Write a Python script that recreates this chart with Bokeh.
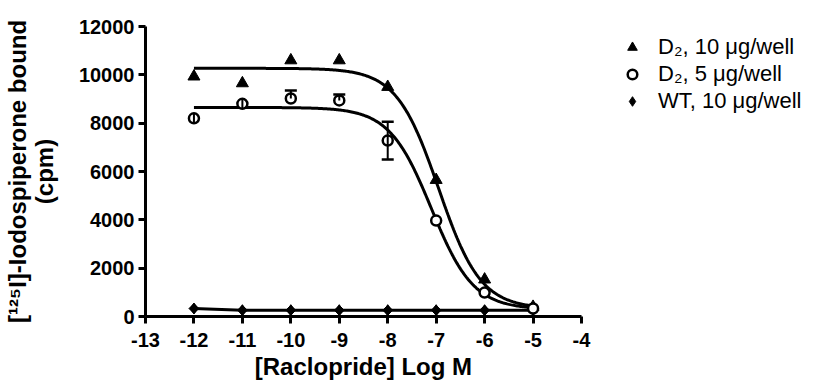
import numpy as np
from bokeh.plotting import figure
from bokeh.models import Range1d, FixedTicker, Legend, LegendItem, Title
from bokeh.embed import file_html
from bokeh.resources import INLINE

# ---------------- data ----------------
log_conc = [-12, -11, -10, -9, -8, -7, -6, -5]
d2_10 = [9930, 9650, 10600, 10600, 9500, 5650, 1530, 400]
d2_5 = [8200, 8800, 9020, 8940, 7280, 3970, 990, 330]
d2_5_err_lo = [200, 200, 0, 0, 780, 0, 0, 0]
d2_5_err_hi = [200, 200, 330, 250, 780, 0, 0, 0]
wt_10 = [330, 260, 260, 260, 260, 260, 260, 260]

# one-site competition fits: (top, bottom, logIC50)
fit_d2_10 = (10270, 330, -6.95)
fit_d2_5 = (8650, 300, -7.10)

x_ticks = [-13, -12, -11, -10, -9, -8, -7, -6, -5, -4]
x_tick_labels = ["-13", "-12", "-11", "-10", "-9", "-8", "-7", "-6", "-5", "-4"]
y_ticks = [0, 2000, 4000, 6000, 8000, 10000, 12000]
y_tick_labels = ["0", "2000", "4000", "6000", "8000", "10000", "12000"]

legend_labels = ["D\u2082, 10 \u03bcg/well", "D\u2082, 5 \u03bcg/well", "WT, 10 \u03bcg/well"]
x_title = "[Raclopride] Log M"
y_title = "[\u00b9\u00b2\u2075I]-Iodospiperone bound\n(cpm)"

FONT = "Liberation Sans"

# ---------------- layout ----------------
W, H = 817, 385
ML, MT, MB, MR = 145, 26, 69, 11
AXIS_PX = 436                      # pixel length of the drawn x axis (-13 .. -4)
frame_w = W - ML - MR
x_lo, x_hi = x_ticks[0], x_ticks[-1]
x_max = x_lo + (x_hi - x_lo) * frame_w / AXIS_PX   # extra room on the right for the legend

p = figure(width=W, height=H, x_range=Range1d(x_lo, x_max), y_range=Range1d(y_ticks[0], y_ticks[-1]),
           output_backend="svg", toolbar_location=None,
           min_border_left=ML, min_border_top=MT, min_border_bottom=MB, min_border_right=MR)
p.outline_line_color = None
p.xgrid.visible = False
p.ygrid.visible = False
p.background_fill_color = "white"
p.border_fill_color = "white"

for ax in (p.xaxis[0], p.yaxis[0]):
    ax.axis_line_width = 3
    ax.axis_line_color = "black"
    ax.major_tick_line_width = 3
    ax.major_tick_line_color = "black"
    ax.major_tick_out = 7
    ax.major_tick_in = 0
    ax.minor_tick_line_color = None
    ax.major_label_text_font = FONT
    ax.major_label_text_font_style = "bold"
    ax.major_label_text_font_size = "20px"
    ax.major_label_text_color = "black"
    ax.axis_label_text_font = FONT
    ax.axis_label_text_font_style = "bold"
    ax.axis_label_text_color = "black"

p.xaxis[0].ticker = FixedTicker(ticks=x_ticks)
p.xaxis[0].major_label_overrides = dict(zip(x_ticks, x_tick_labels))
p.xaxis[0].bounds = (x_lo, x_hi)
p.xaxis[0].major_label_standoff = 9

p.yaxis[0].ticker = FixedTicker(ticks=y_ticks)
p.yaxis[0].major_label_overrides = dict(zip(y_ticks, y_tick_labels))
p.yaxis[0].bounds = (y_ticks[0], y_ticks[-1])
p.yaxis[0].major_label_standoff = 4
p.yaxis[0].axis_label = y_title
p.yaxis[0].axis_label_text_font_size = "24px"
p.yaxis[0].axis_label_text_line_height = 1.0
p.yaxis[0].axis_label_standoff = 18

# x-axis title, centred under the drawn axis (not the whole frame)
XT_SIZE = 24
xt_width = 9.06 * XT_SIZE          # approx. width of the bold title text
p.add_layout(Title(text=x_title, align="left", offset=AXIS_PX / 2 - xt_width / 2,
                   text_font=FONT, text_font_style="bold", text_font_size=f"{XT_SIZE}px",
                   text_color="black", standoff=2), "below")

# ---------------- curves ----------------
xs = np.linspace(log_conc[0], log_conc[-1], 300)


def one_site(x, fit):
    top, bottom, logic50 = fit
    return bottom + (top - bottom) / (1 + 10 ** (x - logic50))


p.line(xs, one_site(xs, fit_d2_10), line_width=3, color="black")
p.line(xs, one_site(xs, fit_d2_5), line_width=3, color="black")
p.line(log_conc, wt_10, line_width=3, color="black")

# ---------------- markers ----------------
r_tri = p.scatter(log_conc, d2_10, marker="triangle", size=12, color="black")
r_wt = p.scatter(log_conc, wt_10, marker="diamond", size=11, color="black")
p.scatter(log_conc, wt_10, marker="square", angle=np.pi / 4, size=7, color="black")
r_circ = p.scatter(log_conc, d2_5, marker="circle", size=10, fill_color="white",
                   line_color="black", line_width=2.5)

lo = [v - e for v, e in zip(d2_5, d2_5_err_lo)]
hi = [v + e for v, e in zip(d2_5, d2_5_err_hi)]
p.segment(x0=log_conc, y0=lo, x1=log_conc, y1=hi, line_width=2, color="black")
cap_x = [x for x, e in zip(log_conc, d2_5_err_hi) if e >= 250] + \
        [x for x, e in zip(log_conc, d2_5_err_lo) if e >= 250]
cap_y = [h for h, e in zip(hi, d2_5_err_hi) if e >= 250] + \
        [l for l, e in zip(lo, d2_5_err_lo) if e >= 250]
p.scatter(cap_x, cap_y, marker="dash", size=12, line_width=2.5, color="black")

# ---------------- legend ----------------
legend = Legend(items=[LegendItem(label=legend_labels[0], renderers=[r_tri]),
                       LegendItem(label=legend_labels[1], renderers=[r_circ]),
                       LegendItem(label=legend_labels[2], renderers=[r_wt])],
                location=(475, 202), orientation="vertical",
                glyph_width=24, glyph_height=24, spacing=1, padding=0, margin=0,
                label_standoff=14, label_text_font=FONT, label_text_font_size="22px",
                label_text_color="black", border_line_color=None,
                background_fill_alpha=0)
p.add_layout(legend, "center")

open("out.html", "w").write(file_html(p, INLINE))
